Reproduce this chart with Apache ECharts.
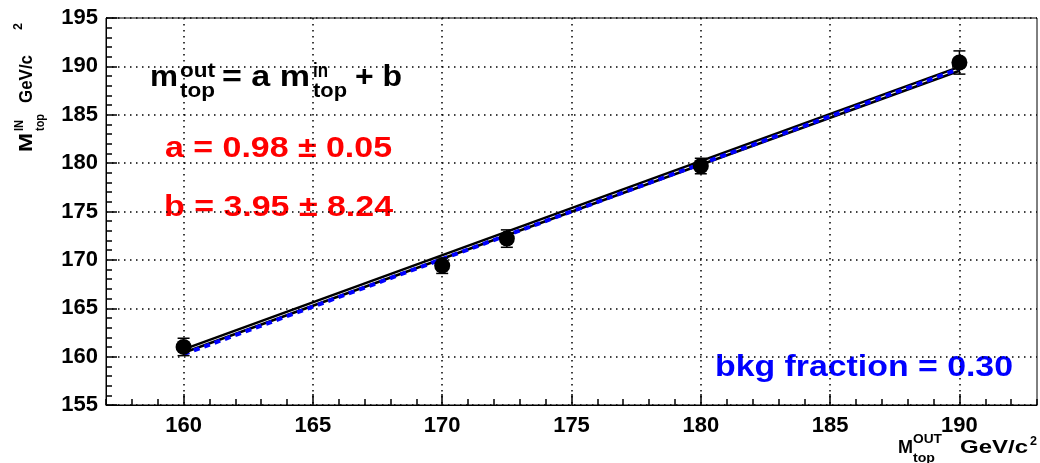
<!DOCTYPE html>
<html>
<head>
<meta charset="utf-8">
<script src="https://cdn.jsdelivr.net/npm/echarts@6.0.0/dist/echarts.min.js"></script>
<style>
  html, body { margin: 0; padding: 0; background: #fff; }
  #chart { width: 1040px; height: 463px; }
</style>
</head>
<body>
<div id="chart"></div>
<script>
"use strict";

// measured points: M_out (x), M_in (y), error on y
const massOut = [160, 170, 172.5, 180, 190];
const massIn = [161.0, 169.4, 172.2, 179.7, 190.4];
const massErr = [0.9, 0.8, 0.9, 0.8, 1.2];

// fit lines read at both ends (x = 160 and x = 190)
const lineX = [160, 190];
const fitUpper = [160.75, 189.95];
const fitLower = [160.4, 189.55];
const blueLine = [160.25, 189.75];

const xTicks = [160, 165, 170, 175, 180, 185, 190];

const FONT = "Liberation Sans, Arial, Helvetica, sans-serif";

const chart = echarts.init(document.getElementById("chart"));
const measureCtx = document.createElement("canvas").getContext("2d");

function pairs(xs, ys) {
    return xs.map((x, i) => [x, ys[i]]);
}

// a bold text piece with its baseline at y, stretched to the width it has in the picture
function piece(text, x, y, size, color, width) {
    const font = "bold " + size + "px " + FONT;
    measureCtx.font = font;
    const w = measureCtx.measureText(text).width;
    return {
        type: "text", x: x, y: y - 0.8 * size, scaleX: width ? width / w : 1,
        style: { text: text, font: font, fill: color }
    };
}

const option = {
    animation: false,
    backgroundColor: "#fff",
    grid: { left: 106, right: 3, top: 18, bottom: 58, show: true, borderColor: "#000", borderWidth: 1 },
    xAxis: [{
        type: "value", min: 157, max: 193,
        axisLine: { lineStyle: { color: "#000", width: 1 } },
        axisTick: { customValues: xTicks, inside: true, length: 11, lineStyle: { color: "#000", width: 1.5 } },
        axisLabel: { customValues: xTicks, color: "#000", fontFamily: FONT, fontWeight: "bold", fontSize: 22, margin: 10 },
        splitLine: { show: true, lineStyle: { color: "#000", width: 1.5, type: [1.5, 4.5] } }
    }, {
        type: "value", min: 157, max: 193, interval: 1, position: "bottom",
        axisLine: { show: false },
        axisTick: { inside: true, length: 6, lineStyle: { color: "#000", width: 1.5 } },
        axisLabel: { show: false },
        splitLine: { show: false }
    }],
    yAxis: {
        type: "value", min: 155, max: 195, interval: 5,
        axisLine: { show: true, lineStyle: { color: "#000", width: 1 } },
        axisTick: { inside: true, length: 11, lineStyle: { color: "#000", width: 1.5 } },
        minorTick: { show: true, splitNumber: 5, length: 6, lineStyle: { color: "#000", width: 1.5 } },
        axisLabel: { color: "#000", fontFamily: FONT, fontWeight: "bold", fontSize: 22, margin: 8 },
        splitLine: { show: true, lineStyle: { color: "#000", width: 1.5, type: [1.5, 4.5] } }
    },
    series: [{
        type: "line", data: pairs(lineX, fitUpper), symbol: "none", z: 3,
        lineStyle: { color: "#000", width: 2.5 }
    }, {
        type: "line", data: pairs(lineX, fitLower), symbol: "none", z: 3,
        lineStyle: { color: "#000", width: 2.5 }
    }, {
        type: "line", data: pairs(lineX, blueLine), symbol: "none", z: 4,
        lineStyle: { color: "#0000ff", width: 4, type: [6, 5] }
    }, {
        type: "custom", z: 5,
        data: massOut.map((x, i) => [x, massIn[i] - massErr[i], massIn[i] + massErr[i]]),
        renderItem: function (params, api) {
            const lo = api.coord([api.value(0), api.value(1)]);
            const hi = api.coord([api.value(0), api.value(2)]);
            const st = { stroke: "#000", lineWidth: 1.5 };
            return { type: "group", children: [
                { type: "line", shape: { x1: lo[0], y1: lo[1], x2: hi[0], y2: hi[1] }, style: st },
                { type: "line", shape: { x1: lo[0] - 6, y1: lo[1], x2: lo[0] + 6, y2: lo[1] }, style: st },
                { type: "line", shape: { x1: hi[0] - 6, y1: hi[1], x2: hi[0] + 6, y2: hi[1] }, style: st }
            ] };
        }
    }, {
        type: "scatter", data: pairs(massOut, massIn), symbol: "circle", symbolSize: 16, z: 6,
        itemStyle: { color: "#000", opacity: 1 }
    }],
    graphic: [
        // m_top^out = a m_top^in + b
        piece("m", 150, 87, 29, "#000", 28),
        piece("out", 180, 77, 20, "#000", 35),
        piece("top", 180, 97, 20, "#000", 35),
        piece("= a m", 222, 87, 29, "#000", 88),
        piece("in", 313, 77, 20, "#000", 15),
        piece("top", 313, 97, 20, "#000", 34),
        piece("+ b", 355, 87, 29, "#000", 47),

        piece("a = 0.98 \u00b1 0.05", 165, 158, 29, "#ff0000", 227),
        piece("b = 3.95 \u00b1 8.24", 164, 217, 29, "#ff0000", 229),
        piece("bkg fraction = 0.30", 715, 377, 29, "#0000ff", 298),

        // x axis title
        piece("M", 898, 453, 19, "#000", 15),
        piece("OUT", 913, 443, 13, "#000", 29),
        piece("top", 913, 462, 13, "#000", 22),
        piece("GeV/c", 960, 453, 19, "#000", 68),
        piece("2", 1030, 445, 13, "#000", 7),

        // y axis title, rotated to read upwards
        { type: "group", x: 32, y: 153, rotation: Math.PI / 2, children: [
            piece("M", 1, 0, 19, "#000", 19),
            piece("IN", 22, -9, 12, "#000", 11),
            piece("top", 22, 12, 12, "#000", 17),
            piece("GeV/c", 50, 0, 19, "#000", 48),
            piece("2", 123, -10, 12, "#000", 7)
        ] }
    ]
};

chart.setOption(option);
</script>
</body>
</html>
